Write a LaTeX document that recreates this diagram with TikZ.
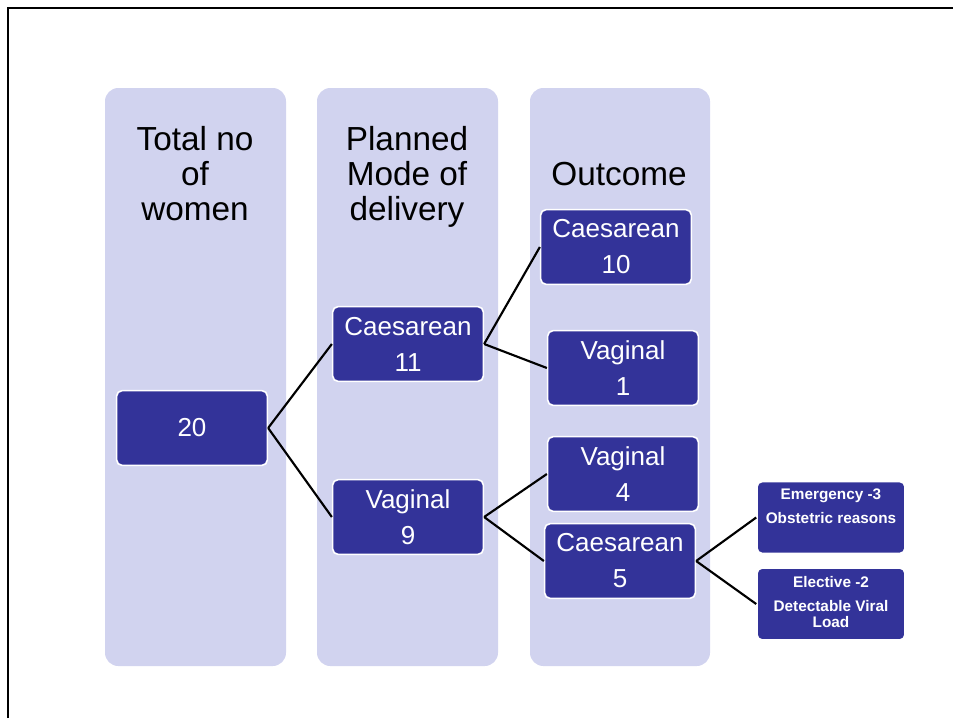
\documentclass[tikz,border=0pt]{standalone}
\usepackage{fontspec}
\setmainfont{Liberation Sans}
\definecolor{boxblue}{RGB}{51,51,153}
\definecolor{lanefill}{RGB}{209,211,239}
\begin{document}
\begin{tikzpicture}[x=0.75pt,y=-0.75pt,lane/.style={fill=lanefill,rounded corners=10pt},head/.style={anchor=north,align=center,inner sep=0pt,font=\fontsize{25}{26.25}\selectfont},stage/.style={draw=white,line width=1.2pt,fill=boxblue,rounded corners=4pt,minimum width=113pt,minimum height=56pt,inner sep=0pt,text=white,align=center,font=\fontsize{19.5}{27}\selectfont},reason/.style={stage,minimum width=111pt,minimum height=54pt},reasontxt/.style={anchor=north,inner sep=0pt,text=white,align=center,font=\bfseries\fontsize{11.5}{12}\selectfont},link/.style={line width=1.6pt}]
\def\ca{195};
\def\cb{407};
\def\cc{619};

\useasboundingbox (0,0) rectangle (953,718);
\draw[line width=1.7pt] (8,718) -- (8,8) -- (953,8);

\fill[lane] (105,88) rectangle (286,666);
\fill[lane] (317,88) rectangle (498,666);
\fill[lane] (530,88) rectangle (710,666);

\node[head] (hTotal) at (\ca,126) {Total no\\of\\women};
\node[head] (hPlan) at (\cb,126) {Planned\\Mode of\\delivery};
\node[head] (hOut) at (\cc,162) {Outcome};

\node[stage] (n20) at (192,428) {20};

\node[stage] (c11) at (408,344) {Caesarean\\11};
\draw[link] (n20.east) -- (c11.west);
\node[stage] (v9) at (408,517) {Vaginal\\9};
\draw[link] (n20.east) -- (v9.west);

\node[stage] (c10) at (616,247) {Caesarean\\10};
\draw[link] (c11.east) -- (c10.west);
\node[stage] (v1) at (623,368) {Vaginal\\1};
\draw[link] (c11.east) -- (v1.west);
\node[stage] (v4) at (623,474) {Vaginal\\4};
\draw[link] (v9.east) -- (v4.west);
\node[stage] (c5) at (620,561) {Caesarean\\5};
\draw[link] (v9.east) -- (c5.west);

\node[reason] (emerg) at (831,517.5) {};
\node[reasontxt] (emergT) at ([yshift=-6pt]emerg.north) {Emergency -3\\[6pt]Obstetric reasons};
\draw[link] (c5.east) -- (emerg.west);
\node[reason] (elect) at (831,604) {};
\node[reasontxt] (electT) at ([yshift=-6.5pt]elect.north) {Elective -2\\[6pt]Detectable Viral\\Load};
\draw[link] (c5.east) -- (elect.west);
\end{tikzpicture}
\end{document}
